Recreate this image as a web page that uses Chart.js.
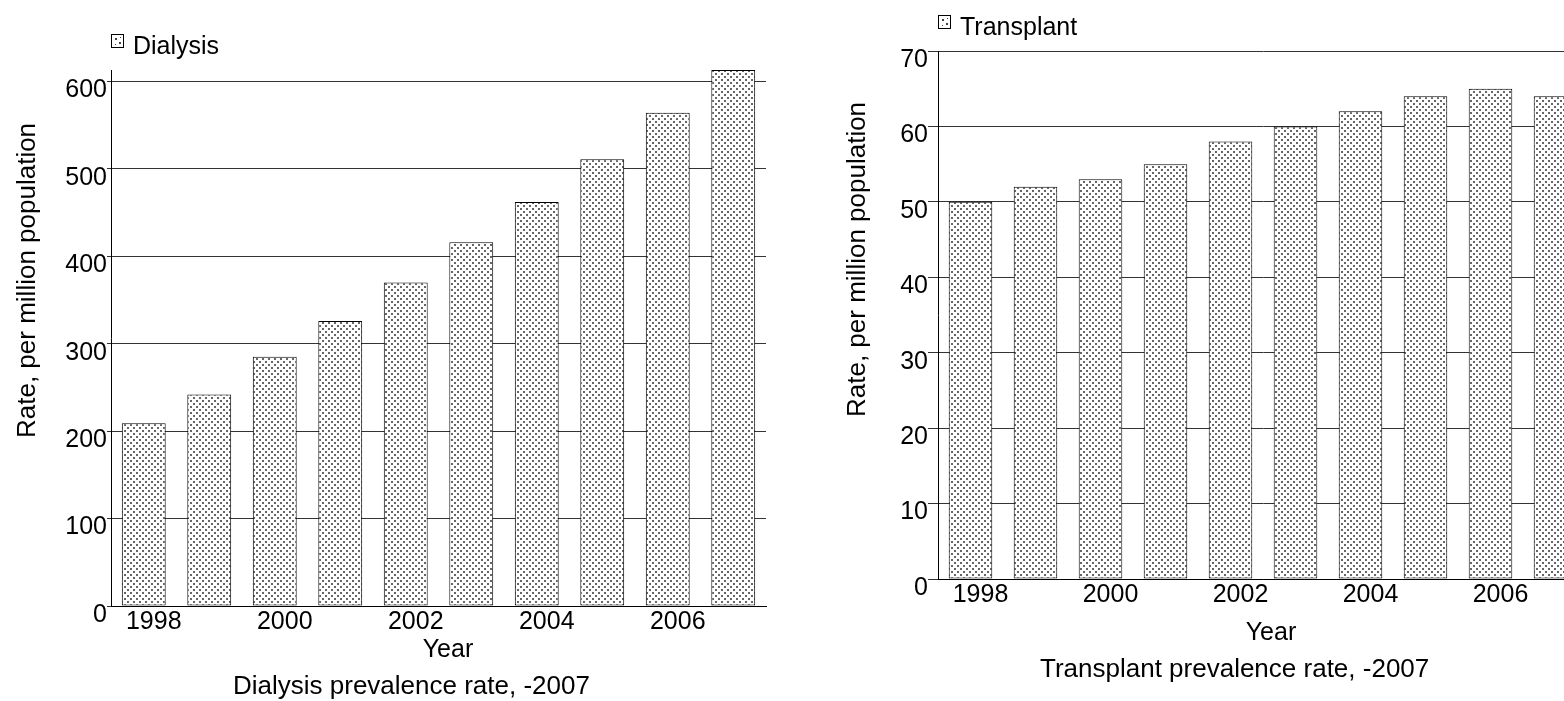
<!DOCTYPE html>
<html>
<head>
<meta charset="utf-8">
<script src="https://cdn.jsdelivr.net/npm/chart.js@4"></script>
<style>
    html, body { margin: 0; padding: 0; background: #fff; overflow: hidden; }
    .panel { position: absolute; top: 0; width: 782px; height: 701px; overflow: hidden; }
    #leftPanel { left: 0; }
    #rightPanel { left: 782px; }
</style>
</head>
<body>
<div class="panel" id="leftPanel"><canvas id="dialysisChart" width="782" height="701"></canvas></div>
<div class="panel" id="rightPanel"><canvas id="transplantChart" width="830" height="701"></canvas></div>
<script>
// DATA -----------------------------------------------------------------------

const years = ['1998', '1999', '2000', '2001', '2002', '2003', '2004', '2005', '2006', '2007']
const dialysisRate = [209, 242, 285, 326, 370, 416, 462, 511, 564, 613]
const transplantRate = [50, 52, 53, 55, 58, 60, 62, 64, 65, 64]
const dialysisTicks = [0, 100, 200, 300, 400, 500, 600]
const transplantTicks = [0, 10, 20, 30, 40, 50, 60, 70]

// HELPERS --------------------------------------------------------------------

const FONT = "'Liberation Sans', Arial, sans-serif"

function dotPattern() {
    const tile = document.createElement('canvas')
    tile.width = 6
    tile.height = 6
    const c = tile.getContext('2d')
    c.fillStyle = '#fff'
    c.fillRect(0, 0, 6, 6)
    c.fillStyle = '#666'
    c.fillRect(1, 1, 2, 2)
    c.fillRect(4, 4, 2, 2)
    return c.createPattern(tile, 'repeat')
}

// legend, axis titles and caption drawn at fixed spots
function captionPlugin(t) {
    return {
        id: 'captions',
        afterDraw(chart) {
            const ctx = chart.ctx
            ctx.save()
            ctx.textBaseline = 'alphabetic'
            // legend
            ctx.fillStyle = '#fff'
            ctx.fillRect(t.legend.x, t.legend.y, 13, 14)
            ctx.fillStyle = '#444'
            ctx.fillRect(t.legend.x + 4, t.legend.y + 4, 2, 2)
            ctx.fillRect(t.legend.x + 8, t.legend.y + 8, 2, 2)
            ctx.fillRect(t.legend.x + 4, t.legend.y + 10, 1, 1)
            ctx.fillRect(t.legend.x + 9, t.legend.y + 3, 1, 1)
            ctx.strokeStyle = '#000'
            ctx.lineWidth = 1
            ctx.strokeRect(t.legend.x + 0.5, t.legend.y + 0.5, 12, 13)
            ctx.fillStyle = '#000'
            ctx.font = `25px ${FONT}`
            ctx.textAlign = 'left'
            ctx.fillText(chart.data.datasets[0].label, t.legend.x + 22, t.legend.y + 20)
            // x title
            ctx.textAlign = 'center'
            ctx.fillText('Year', t.year.x, t.year.y)
            // caption
            ctx.font = `26px ${FONT}`
            ctx.textAlign = 'left'
            ctx.fillText(t.caption.text, t.caption.x, t.caption.y)
            // y title
            ctx.translate(t.ytitle.x, t.ytitle.y)
            ctx.rotate(-Math.PI / 2)
            ctx.fillText('Rate, per million population', 0, 0)
            ctx.restore()
        }
    }
}

function makeChart(canvasId, label, values, tickValues, opts) {
    return new Chart(document.getElementById(canvasId), {
        type: 'bar',
        data: {
            labels: years,
            datasets: [{
                label: label,
                data: values,
                backgroundColor: dotPattern(),
                borderColor: '#000',
                borderWidth: 1,
                borderSkipped: false,
                barPercentage: 0.67,
                categoryPercentage: 1
            }]
        },
        options: {
            responsive: false,
            animation: false,
            layout: {padding: {top: opts.top, right: opts.right, left: 0, bottom: 0}},
            plugins: {
                legend: {display: false},
                tooltip: {enabled: false}
            },
            scales: {
                x: {
                    grid: {display: false, drawTicks: false},
                    border: {display: true, color: '#000', width: 1},
                    ticks: {
                        color: '#000',
                        font: {family: FONT, size: 25},
                        padding: 1,
                        labelOffset: 10,
                        autoSkip: false,
                        maxRotation: 0,
                        callback: (v, i) => (i % 2 === 0 ? years[i] : '')
                    },
                    afterFit: (s) => { s.height = opts.xHeight }
                },
                y: {
                    min: 0,
                    max: opts.max,
                    grid: {color: '#333', lineWidth: 1, tickLength: opts.tick, tickColor: '#333'},
                    border: {display: true, color: '#000', width: 1},
                    ticks: {
                        color: '#000',
                        font: {family: FONT, size: 25},
                        padding: 0,
                        labelOffset: 9
                    },
                    afterBuildTicks: (s) => { s.ticks = tickValues.map(v => ({value: v})) },
                    afterFit: (s) => { s.width = opts.yWidth }
                }
            }
        },
        plugins: [captionPlugin(opts.text)]
    })
}

// CHARTS ---------------------------------------------------------------------

makeChart('dialysisChart', 'Dialysis', dialysisRate, dialysisTicks, {
    top: 70, right: 16, xHeight: 95, yWidth: 111, max: 613, tick: 4,
    text: {
        legend: {x: 111, y: 34},
        year: {x: 448, y: 657},
        caption: {text: 'Dialysis prevalence rate, -2007', x: 233, y: 694},
        ytitle: {x: 35, y: 438}
    }
})

makeChart('transplantChart', 'Transplant', transplantRate, transplantTicks, {
    top: 51, right: 24, xHeight: 122, yWidth: 156, max: 70, tick: 10,
    text: {
        legend: {x: 156, y: 15},
        year: {x: 489, y: 640},
        caption: {text: 'Transplant prevalence rate, -2007', x: 258, y: 677},
        ytitle: {x: 83, y: 417}
    }
})
</script>
</body>
</html>
